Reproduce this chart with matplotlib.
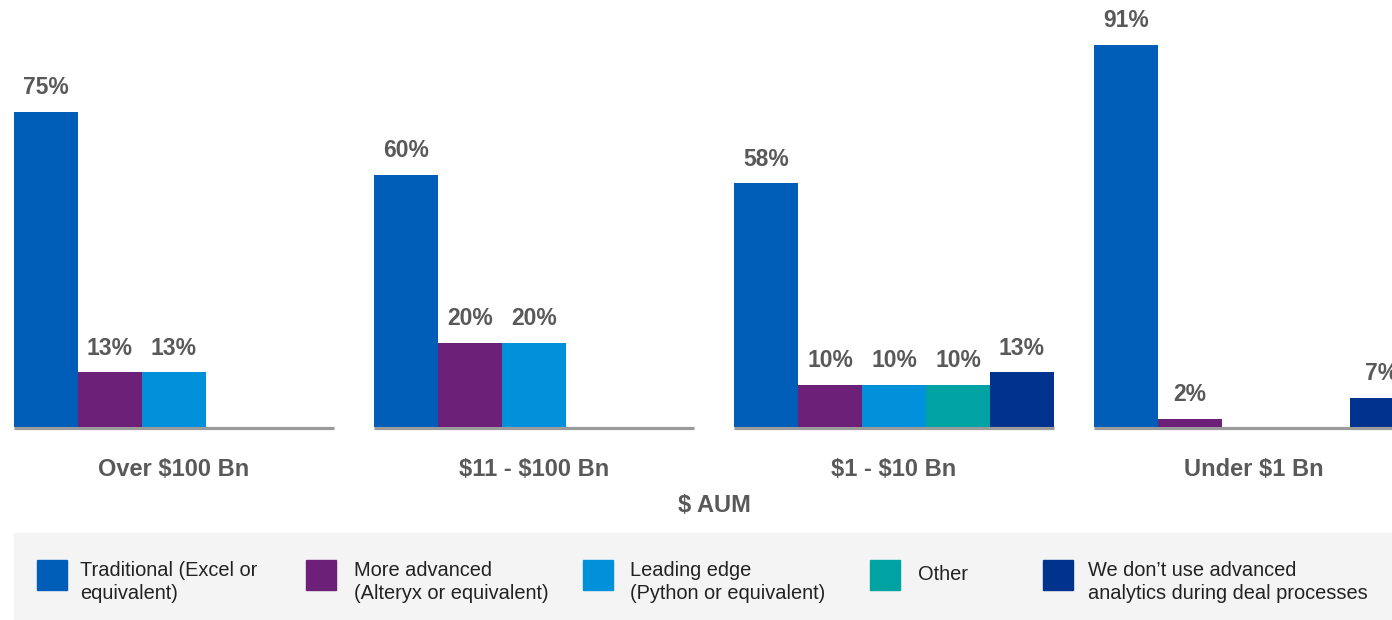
import matplotlib
matplotlib.use("Agg")
import matplotlib.pyplot as plt
from matplotlib.patches import Rectangle

plt.rcParams['font.family'] = ['Liberation Sans', 'DejaVu Sans']

groups = ["Over $100 Bn", "$11 - $100 Bn", "$1 - $10 Bn", "Under $1 Bn"]
series = ["Traditional (Excel or\nequivalent)",
          "More advanced\n(Alteryx or equivalent)",
          "Leading edge\n(Python or equivalent)",
          "Other",
          "We don\u2019t use advanced\nanalytics during deal processes"]
colors = ["#005EB8", "#6D2077", "#0091DA", "#00A3A1", "#00338D"]
traditional = [75, 60, 58, 91]
more_advanced = [13, 20, 10, 2]
leading_edge = [13, 20, 10, None]
other = [None, None, 10, None]
dont_use = [None, None, 13, 7]
values = [traditional, more_advanced, leading_edge, other, dont_use]
axis_title = "$ AUM"

W, H = 1392, 620
fig = plt.figure(figsize=(W / 100, H / 100), dpi=100)
ax = fig.add_axes([0, 0, 1, 1])
ax.set_axis_off()

px_per_unit_x = 64.0
px_per_pct = 4.2
base_px = 427
left_px = 14
xl = -0.5 - left_px / px_per_unit_x
ax.set_xlim(xl, xl + W / px_per_unit_x)
ax.set_ylim(-(H - base_px) / px_per_pct, base_px / px_per_pct)

step = 5.625
nser = len(series)
txt_col = "#595959"

for g, gname in enumerate(groups):
    x0 = g * step
    ax.hlines(-0.35, x0 - 0.5, x0 + nser - 0.5, color="#9b9b9b", lw=2.3, zorder=1)
    for s in range(nser):
        v = values[s][g]
        if v is None:
            continue
        ax.bar(x0 + s, v, width=1.0, color=colors[s], zorder=2, linewidth=0)
        ax.annotate(f"{v}%", (x0 + s, v), xytext=(0, 9), textcoords="offset points",
                    ha="center", va="bottom", fontsize=16.5, fontweight="bold",
                    color=txt_col, clip_on=False)
    ax.text(x0 + (nser - 1) / 2, -(469 - base_px) / px_per_pct, gname,
            ha="center", va="center", fontsize=17, fontweight="bold", color=txt_col,
            parse_math=False)

ax.text(((len(groups) - 1) * step + nser - 1) / 2, -(505 - base_px) / px_per_pct,
        axis_title, ha="center", va="center", fontsize=17, fontweight="bold", color=txt_col,
        parse_math=False)

# legend panel
def fx(px):
    return px / W

def fy(py):
    return 1 - py / H

fig.patches.append(Rectangle((fx(14), fy(620)), fx(1392) - fx(14), fy(533) - fy(620),
                             transform=fig.transFigure, color="#f4f4f4", zorder=0))
sq_left = [37, 306, 583, 870, 1043]
txt_left = [80, 354, 630, 918, 1088]
for i, lab in enumerate(series):
    fig.patches.append(Rectangle((fx(sq_left[i]), fy(590)), fx(30), 30 / H,
                                 transform=fig.transFigure, color=colors[i], zorder=1))
    yc = 582 if "\n" in lab else 575
    fig.text(fx(txt_left[i]), fy(yc), lab, ha="left", va="center", fontsize=14.4,
             color="#222222", linespacing=1.3)

fig.savefig("out.png", dpi=100)
